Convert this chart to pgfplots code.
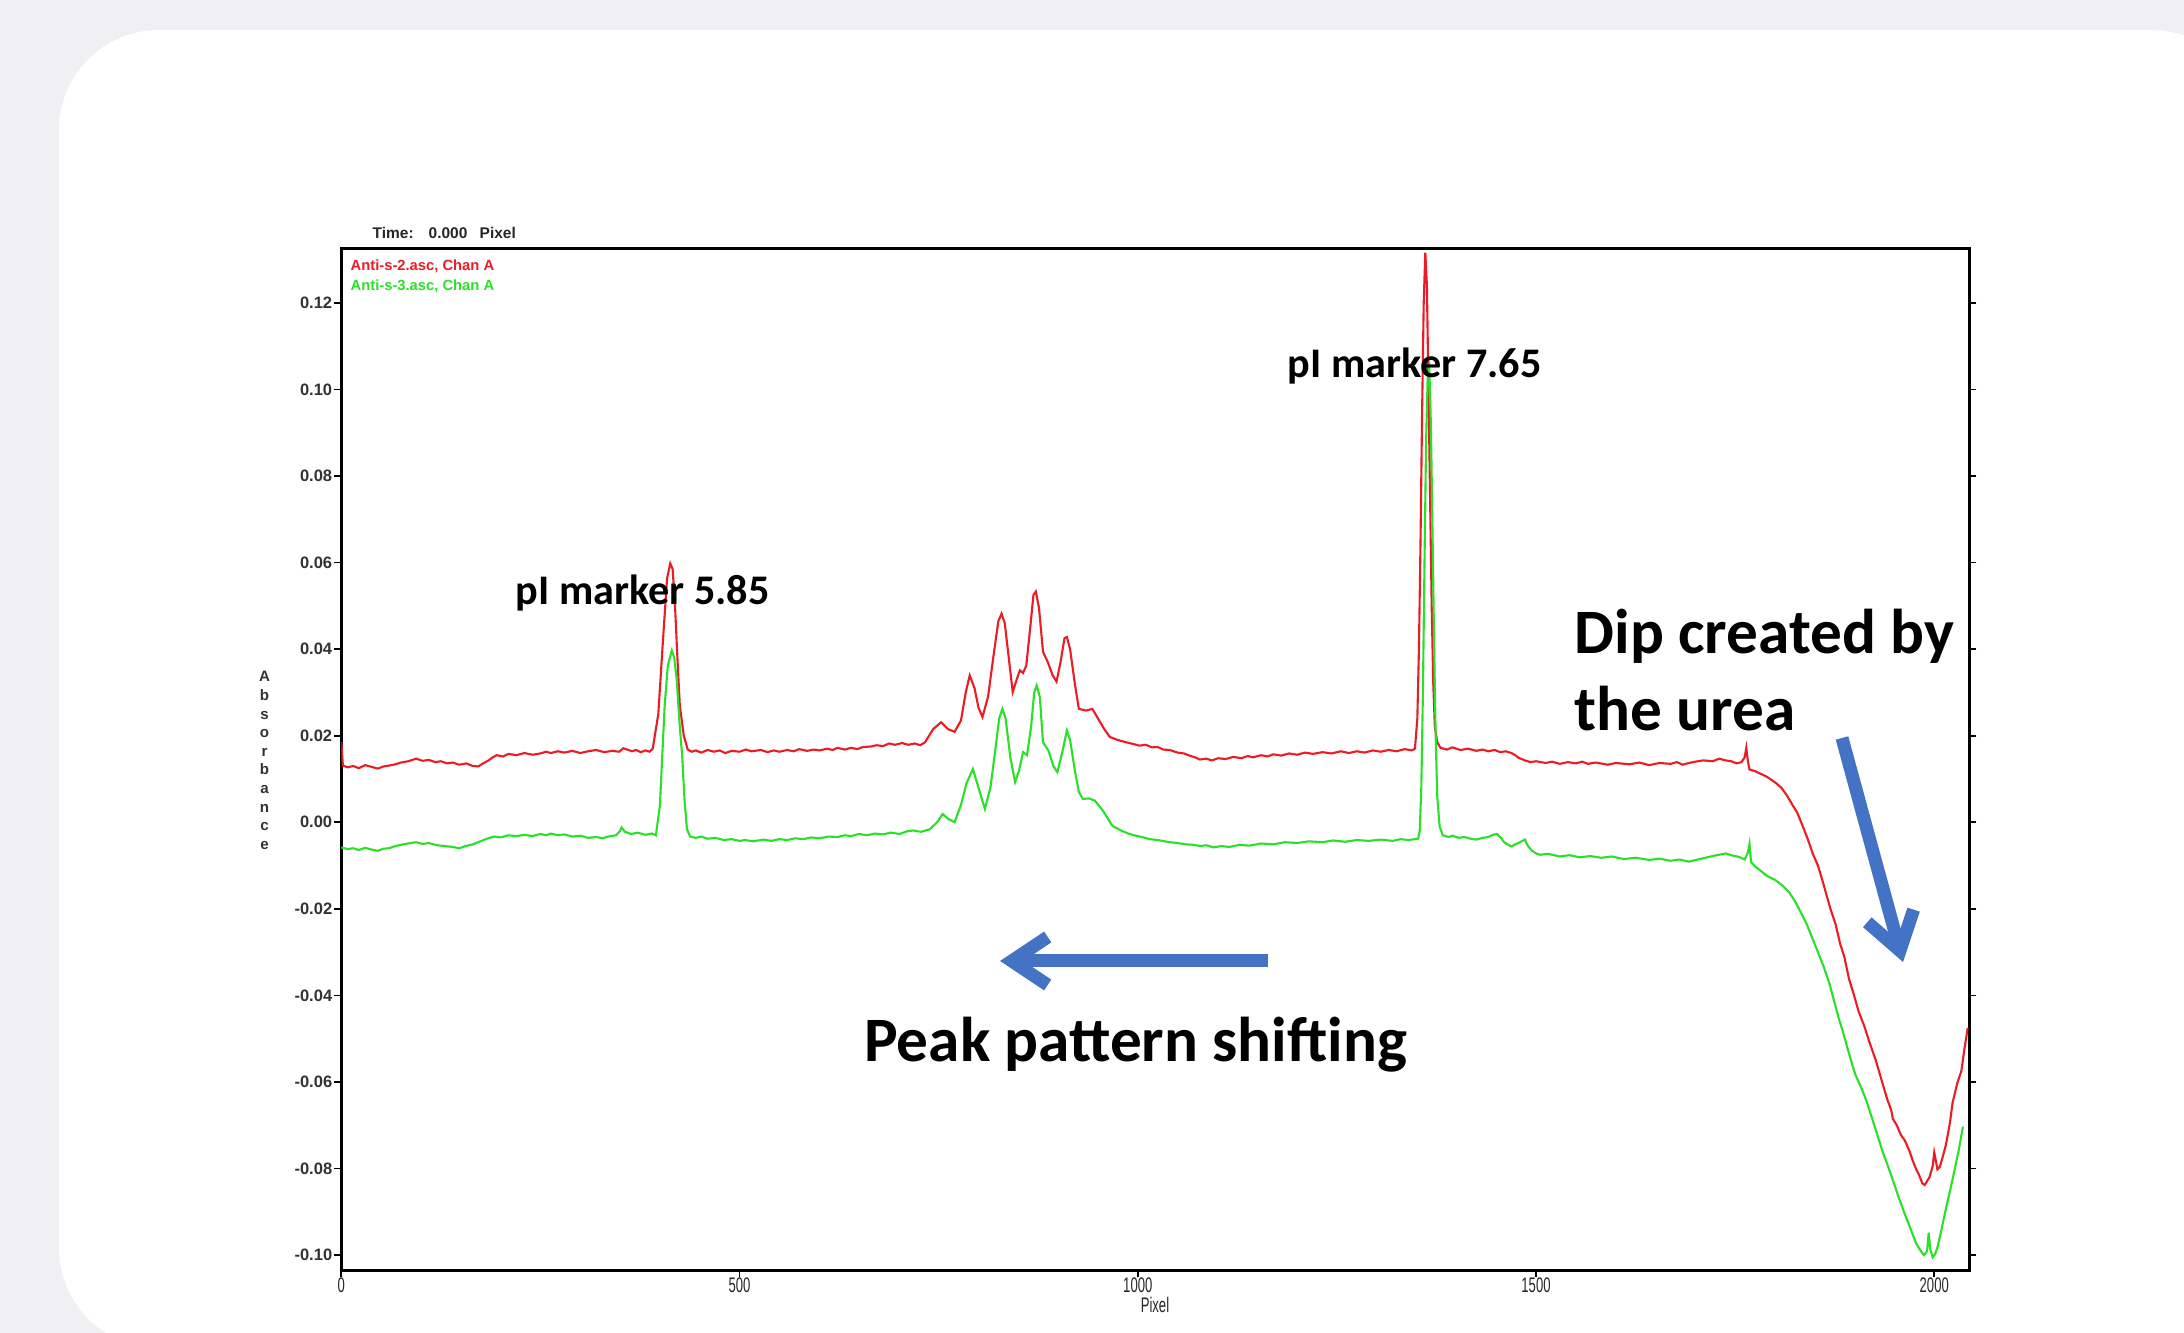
\documentclass[border=0pt]{standalone}
\usepackage{fontspec}
\setmainfont{Carlito}
\newfontfamily\arial{Liberation Sans}
\usepackage{pgfplots}
\pgfplotsset{compat=1.18}
\usetikzlibrary{arrows.meta}

\definecolor{bggray}{RGB}{240,240,242}
\definecolor{tracered}{RGB}{236,28,36}
\definecolor{tracegreen}{RGB}{40,225,40}
\definecolor{arrowblue}{RGB}{68,114,196}

\begin{document}
\begin{tikzpicture}
\path[use as bounding box] (0,0) rectangle (21.84,13.33);
\clip (0,0) rectangle (21.84,13.33);
\fill[bggray] (0,0) rectangle (21.84,13.33);
\fill[white, rounded corners=1cm] (0.59,-0.15) rectangle (22.51,13.03);

\begin{axis}[
  at={(3.413cm,0.627cm)}, anchor=south west,
  scale only axis,
  width=16.28cm, height=10.22cm,
  xmin=0, xmax=2044,
  ymin=-0.1035, ymax=0.1326,
  xtick={0,500,1000,1500,2000},
  xticklabels={0,500,1000,1500,2000},
  ytick={-0.1,-0.08,-0.06,-0.04,-0.02,0,0.02,0.04,0.06,0.08,0.1,0.12},
  /pgf/number format/assume math mode=true,
  yticklabel style={/pgf/number format/fixed,
    /pgf/number format/fixed zerofill,
    /pgf/number format/precision=2,
    font=\arial\bfseries\fontsize{4.7}{5.5}\selectfont, text=black!80, inner sep=0.4pt},
  xticklabel style={font=\arial\fontsize{6}{7}\selectfont, xscale=0.62,
    text=black!85, yshift=0.12cm},
  xtick pos=lower, ytick pos=both,
  tick align=outside,
  major tick length=0.07cm,
  tick style={black, line width=0.5pt},
  axis line style={black, line width=0.7pt},
]
% Anti-s-2.asc, Chan A
\addplot[tracered, line width=0.6pt] coordinates {
(0,0.0185)(2,0.0131)(8,0.0127)(15,0.0130)(22,0.0125)(30,0.0132)(38,0.0128)(46,0.0124)
(53,0.0129)(60,0.0131)(68,0.0134)(75,0.0138)(84,0.0141)(94,0.0147)(102,0.0142)
(110,0.0144)(118,0.0139)(125,0.0141)(133,0.0136)(140,0.0138)(148,0.0133)(157,0.0136)
(165,0.0130)(172,0.0129)(178,0.0136)(185,0.0143)(190,0.0150)(195,0.0155)(203,0.0152)
(210,0.0158)(220,0.0155)(230,0.0160)(240,0.0156)(250,0.0159)(257,0.0163)(263,0.0160)
(272,0.0164)(280,0.0161)(290,0.0165)(300,0.0160)(310,0.0164)(320,0.0167)(330,0.0162)
(340,0.0165)(349,0.0163)(354,0.0171)(359,0.0168)(365,0.0164)(370,0.0167)(376,0.0162)
(382,0.0166)(387,0.0163)(391,0.0170)
(398,0.0250)(404,0.0424)(409,0.0563)(413,0.0598)(416,0.0585)(419,0.0500)(422,0.0380)
(425,0.0270)(430,0.0200)
(435,0.0168)(440,0.0163)(445,0.0166)(452,0.0161)(460,0.0167)(468,0.0163)(475,0.0166)
(482,0.0160)(490,0.0165)(500,0.0163)(508,0.0168)(515,0.0164)(527,0.0167)(535,0.0162)
(543,0.0166)(550,0.0163)(560,0.0167)(568,0.0164)(575,0.0169)(585,0.0165)(593,0.0168)
(600,0.0166)(610,0.0170)(617,0.0167)(623,0.0172)(632,0.0168)(640,0.0172)(648,0.0169)
(655,0.0174)(665,0.0175)(672,0.0178)(680,0.0176)(688,0.0182)(695,0.0179)(704,0.0183)
(712,0.0179)(720,0.0182)(727,0.0178)(733,0.0185)
(743,0.0215)(753,0.0231)(762,0.0215)(770,0.0209)(778,0.0235)(784,0.0300)(789,0.0339)
(795,0.0310)(800,0.0265)(805,0.0243)(812,0.0290)(820,0.0400)(825,0.0465)(829,0.0482)
(833,0.0460)(838,0.0380)(843,0.0301)(848,0.0330)(852,0.0351)(856,0.0345)(860,0.0362)
(865,0.0450)(869,0.0525)(872,0.0533)(876,0.0495)(881,0.0394)(887,0.0370)(893,0.0340)
(898,0.0325)(903,0.0370)(908,0.0425)(911,0.0428)(915,0.0400)(921,0.0320)(926,0.0262)
(935,0.0258)(943,0.0262)(950,0.0240)(958,0.0215)(965,0.0197)(975,0.0190)(985,0.0185)
(994,0.0181)(1002,0.0177)(1010,0.0179)(1018,0.0173)(1025,0.0174)(1032,0.0168)
(1040,0.0167)(1050,0.0161)(1058,0.0159)(1065,0.0154)(1072,0.0150)(1078,0.0145)
(1086,0.0147)(1093,0.0143)(1101,0.0148)(1110,0.0146)(1120,0.0151)(1130,0.0148)
(1138,0.0153)(1145,0.0150)(1155,0.0155)(1163,0.0152)(1170,0.0157)(1180,0.0154)
(1190,0.0159)(1200,0.0156)(1210,0.0161)(1220,0.0158)(1232,0.0162)(1243,0.0159)
(1255,0.0164)(1265,0.0160)(1275,0.0164)(1285,0.0161)(1295,0.0166)(1305,0.0163)
(1315,0.0167)(1325,0.0164)(1335,0.0169)(1344,0.0166)
(1348,0.0170)(1351,0.0240)(1353,0.0400)(1355,0.0650)(1357,0.0950)(1359,0.1200)
(1361,0.1316)(1363,0.1240)(1365,0.1000)(1367,0.0750)(1369,0.0500)(1371,0.0320)
(1373,0.0220)(1376,0.0185)
(1380,0.0172)(1388,0.0168)(1395,0.0173)(1405,0.0167)(1415,0.0170)(1425,0.0165)
(1433,0.0168)(1440,0.0164)(1448,0.0167)(1455,0.0162)(1462,0.0164)(1469,0.0160)
(1474,0.0155)(1478,0.0149)(1486,0.0143)(1493,0.0139)(1500,0.0141)(1512,0.0137)
(1520,0.0140)(1530,0.0135)(1540,0.0139)(1550,0.0136)(1558,0.0140)(1565,0.0135)
(1575,0.0138)(1590,0.0133)(1600,0.0137)(1617,0.0134)(1630,0.0138)(1642,0.0132)
(1655,0.0137)(1669,0.0135)(1677,0.0139)(1684,0.0133)(1692,0.0137)(1700,0.0140)
(1710,0.0143)(1722,0.0141)(1730,0.0147)(1738,0.0143)(1745,0.0141)(1752,0.0136)
(1758,0.0139)(1762,0.0150)(1764,0.0172)(1766,0.0142)(1768,0.0122)
(1775,0.0118)(1782,0.0112)(1790,0.0105)(1801,0.0091)(1808,0.0080)(1815,0.0062)
(1822,0.0040)(1828,0.0022)(1834,-0.0005)(1841,-0.0038)(1848,-0.0075)(1854,-0.0100)
(1860,-0.0137)(1865,-0.0170)(1870,-0.0202)(1876,-0.0235)(1882,-0.0282)(1887,-0.0310)
(1893,-0.0362)(1899,-0.0398)(1905,-0.0437)(1912,-0.0470)(1919,-0.0510)(1927,-0.0552)
(1935,-0.0603)(1941,-0.0640)(1946,-0.0665)(1948,-0.0685)(1953,-0.0700)(1958,-0.0722)
(1963,-0.0735)(1969,-0.0760)(1973,-0.0782)(1977,-0.0800)(1981,-0.0815)(1985,-0.0834)
(1988,-0.0838)(1990,-0.0832)(1994,-0.0820)(1998,-0.0795)(2000,-0.0763)(2002,-0.0782)
(2004,-0.0802)(2007,-0.0796)(2010,-0.0777)(2014,-0.0750)(2017,-0.0722)(2020,-0.0690)
(2023,-0.0648)(2026,-0.0625)(2029,-0.0602)(2034,-0.0575)(2038,-0.0522)(2042,-0.0475)
};
% Anti-s-3.asc, Chan A
\addplot[tracegreen, line width=0.6pt] coordinates {
(0,-0.0058)(8,-0.0062)(15,-0.0060)(22,-0.0064)(30,-0.0059)(38,-0.0063)(46,-0.0066)
(53,-0.0061)(60,-0.0060)(68,-0.0055)(75,-0.0052)(84,-0.0049)(94,-0.0046)(102,-0.0050)
(110,-0.0048)(120,-0.0053)(130,-0.0055)(140,-0.0057)(148,-0.0060)(156,-0.0055)
(165,-0.0051)(172,-0.0046)(180,-0.0040)(186,-0.0036)(192,-0.0033)(200,-0.0035)
(210,-0.0030)(220,-0.0032)(230,-0.0029)(240,-0.0032)(250,-0.0027)(257,-0.0030)
(263,-0.0026)(272,-0.0030)(280,-0.0028)(290,-0.0033)(300,-0.0031)(310,-0.0036)
(320,-0.0034)(328,-0.0037)(335,-0.0033)(345,-0.0030)(350,-0.0020)(352,-0.0012)
(356,-0.0022)(364,-0.0027)(372,-0.0024)(382,-0.0029)(390,-0.0026)(395,-0.0030)
(400,0.0038)(406,0.0270)(410,0.0362)(415,0.0397)(418,0.0380)(421,0.0332)(425,0.0220)
(428,0.0153)(431,0.0050)(434,-0.0016)
(438,-0.0033)(445,-0.0036)(452,-0.0033)(460,-0.0038)(470,-0.0036)(480,-0.0041)
(490,-0.0039)(500,-0.0043)(507,-0.0041)(517,-0.0044)(530,-0.0040)(540,-0.0043)
(550,-0.0039)(560,-0.0041)(570,-0.0037)(580,-0.0039)(590,-0.0035)(600,-0.0037)
(612,-0.0033)(623,-0.0034)(632,-0.0030)(640,-0.0032)(650,-0.0027)(660,-0.0030)
(670,-0.0026)(680,-0.0028)(690,-0.0024)(701,-0.0027)(710,-0.0021)(718,-0.0019)
(728,-0.0022)(739,-0.0016)
(748,0.0000)(755,0.0019)(762,0.0008)(770,0.0000)(778,0.0040)(785,0.0090)(793,0.0123)
(800,0.0080)(808,0.0031)(815,0.0080)(822,0.0180)(826,0.0240)(830,0.0262)(834,0.0240)
(840,0.0150)(846,0.0093)(851,0.0120)(856,0.0162)(861,0.0155)(866,0.0220)(870,0.0300)
(873,0.0316)(877,0.0290)(881,0.0185)(888,0.0165)(894,0.0130)(899,0.0116)(905,0.0160)
(911,0.0212)(915,0.0190)(921,0.0120)(926,0.0070)(931,0.0054)(939,0.0055)(946,0.0050)
(955,0.0030)(962,0.0010)
(968,-0.0008)(975,-0.0015)(980,-0.0020)(988,-0.0026)(995,-0.0030)(1005,-0.0034)
(1015,-0.0039)(1025,-0.0041)(1040,-0.0046)(1050,-0.0048)(1060,-0.0051)(1070,-0.0052)
(1078,-0.0055)(1086,-0.0053)(1095,-0.0058)(1105,-0.0055)(1115,-0.0057)(1128,-0.0052)
(1140,-0.0054)(1155,-0.0049)(1170,-0.0051)(1185,-0.0046)(1200,-0.0048)(1215,-0.0044)
(1232,-0.0046)(1245,-0.0042)(1260,-0.0045)(1275,-0.0041)(1290,-0.0043)(1305,-0.0040)
(1320,-0.0043)(1330,-0.0039)(1340,-0.0041)(1352,-0.0038)
(1354,-0.0020)(1356,0.0080)(1358,0.0300)(1360,0.0600)(1362,0.0880)(1364,0.1030)
(1366,0.1050)(1368,0.0920)(1370,0.0680)(1372,0.0420)(1374,0.0200)(1376,0.0060)
(1379,-0.0010)
(1383,-0.0030)(1390,-0.0034)(1395,-0.0031)(1403,-0.0036)(1410,-0.0034)(1418,-0.0038)
(1425,-0.0040)(1433,-0.0036)(1440,-0.0034)(1446,-0.0029)(1451,-0.0027)(1456,-0.0036)
(1460,-0.0046)(1465,-0.0052)(1469,-0.0056)(1474,-0.0051)(1478,-0.0048)(1483,-0.0043)
(1486,-0.0040)(1490,-0.0055)(1495,-0.0066)(1500,-0.0072)(1505,-0.0075)(1515,-0.0073)
(1530,-0.0079)(1542,-0.0076)(1555,-0.0081)(1568,-0.0078)(1582,-0.0082)(1595,-0.0079)
(1610,-0.0085)(1625,-0.0082)(1642,-0.0087)(1655,-0.0084)(1669,-0.0089)(1680,-0.0086)
(1692,-0.0091)(1703,-0.0086)(1715,-0.0081)(1727,-0.0076)(1738,-0.0072)(1747,-0.0077)
(1755,-0.0080)(1762,-0.0086)(1766,-0.0070)(1768,-0.0050)(1770,-0.0092)(1775,-0.0102)
(1782,-0.0112)(1790,-0.0124)(1800,-0.0133)(1810,-0.0147)(1818,-0.0162)(1826,-0.0185)
(1833,-0.0210)(1840,-0.0236)(1847,-0.0268)(1854,-0.0300)(1861,-0.0333)(1868,-0.0370)
(1875,-0.0418)(1880,-0.0452)(1885,-0.0482)(1892,-0.0528)(1897,-0.0560)(1901,-0.0583)
(1908,-0.0612)(1912,-0.0630)(1916,-0.0650)(1923,-0.0690)(1929,-0.0725)(1935,-0.0760)
(1942,-0.0795)(1949,-0.0832)(1956,-0.0870)(1963,-0.0905)(1970,-0.0938)(1977,-0.0972)
(1983,-0.0990)(1987,-0.1000)(1991,-0.0991)(1993,-0.0948)(1995,-0.0986)(1998,-0.1005)
(2001,-0.0998)(2004,-0.0982)(2008,-0.0950)(2012,-0.0915)(2016,-0.0882)(2020,-0.0850)
(2023,-0.0825)(2027,-0.0790)(2031,-0.0755)(2036,-0.0703)
};
\end{axis}

% instrument header, legend and axis titles
\begin{scope}[every node/.style={inner sep=0pt, anchor=west,
    font=\arial\bfseries\fontsize{4.4}{5.5}\selectfont, text=black!85}]
  \node at (3.72,11.00) {Time:};
  \node at (4.28,11.00) {0.000};
  \node at (4.79,11.00) {Pixel};
  \node[font=\arial\bfseries\fontsize{4.2}{5}\selectfont, text=tracered] at (3.50,10.67) {Anti-s-2.asc, Chan A};
  \node[font=\arial\bfseries\fontsize{4.2}{5}\selectfont, text=tracegreen] at (3.50,10.47) {Anti-s-3.asc, Chan A};
\end{scope}
\node[font=\arial\bfseries\fontsize{4.3}{5.3}\selectfont, align=center, inner sep=0pt, text=black!80]
  at (2.646,5.725) {A\\b\\s\\o\\r\\b\\a\\n\\c\\e};
\node[font=\arial\fontsize{6}{7}\selectfont, xscale=0.62, inner sep=0pt, text=black!85]
  at (11.55,0.28) {Pixel};

% slide annotations
\begin{scope}[every node/.style={inner sep=0pt, anchor=base west}]
  \node[font=\bfseries\fontsize{12}{14}\selectfont] at (5.15,7.28) {pI marker 5.85};
  \node[font=\bfseries\fontsize{12}{14}\selectfont] at (12.87,9.55) {pI marker 7.65};
  \node[font=\bfseries\fontsize{18}{21}\selectfont] at (15.74,6.79) {Dip created by};
  \node[font=\bfseries\fontsize{18}{21}\selectfont] at (15.74,6.025) {the urea};
  \node[font=\bfseries\fontsize{18}{21}\selectfont] at (8.636,2.71) {Peak pattern shifting};
\end{scope}
\draw[arrowblue, line width=0.13cm, -{Straight Barb[length=0.36cm, width=0.48cm]}]
  (12.68,3.72) -- (10.0,3.72);
\draw[arrowblue, line width=0.13cm, -{Straight Barb[length=0.36cm, width=0.48cm]}]
  (18.42,5.95) -- (19.03,3.71);
\end{tikzpicture}
\end{document}
